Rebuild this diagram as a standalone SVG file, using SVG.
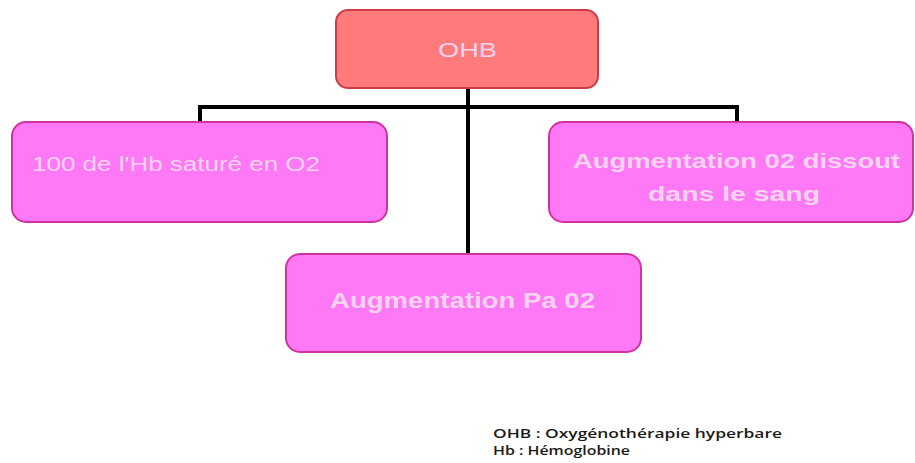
<svg xmlns="http://www.w3.org/2000/svg" width="915" height="463" viewBox="0 0 915 463">
<style>
.pink{fill:#ff78f5;stroke:#d0339e;stroke-width:2}
.red{fill:#ff7b7b;stroke:#cc3c48;stroke-width:2}
.lbl{font-family:"Liberation Sans",Arial,sans-serif;fill:#f8d3f1}
.conn{stroke:#000;stroke-width:4;fill:none}
.note{font-family:"Open Sans","DejaVu Sans",sans-serif;font-size:12px;font-weight:600;fill:#1a1a1a}
</style>
<rect width="915" height="463" fill="#fff"/>
<g id="connectors">
<path class="conn" d="M468 88V258"/>
<path class="conn" d="M200 107H739"/>
<path class="conn" d="M200 105V123"/>
<path class="conn" d="M737 105V123"/>
</g>
<g id="ohb">
<rect class="red" x="336" y="10" width="262" height="78" rx="12"/>
<text class="lbl" x="438" y="57" font-size="19.5" textLength="59" lengthAdjust="spacingAndGlyphs">OHB</text>
</g>
<g id="hb-sature">
<rect class="pink" x="12" y="122" width="375" height="100" rx="14"/>
<text class="lbl" x="32" y="171" font-size="20" textLength="288" lengthAdjust="spacingAndGlyphs">100 de l'Hb saturé en O2</text>
</g>
<g id="o2-dissout">
<rect class="pink" x="549" y="122" width="364" height="100" rx="14"/>
<text class="lbl" x="573" y="168" font-size="21" font-weight="bold" textLength="327" lengthAdjust="spacingAndGlyphs">Augmentation 02 dissout</text>
<text class="lbl" x="648" y="201" font-size="21" font-weight="bold" textLength="172" lengthAdjust="spacingAndGlyphs">dans le sang</text>
</g>
<g id="pa-o2">
<rect class="pink" x="286" y="254" width="355" height="98" rx="14"/>
<text class="lbl" x="330" y="308" font-size="22" font-weight="bold" textLength="265" lengthAdjust="spacingAndGlyphs">Augmentation Pa 02</text>
</g>
<g id="legend">
<text class="note" x="493" y="438" textLength="289" lengthAdjust="spacingAndGlyphs">OHB : Oxygénothérapie hyperbare</text>
<text class="note" x="493" y="455" textLength="137" lengthAdjust="spacingAndGlyphs">Hb : Hémoglobine</text>
</g>
</svg>
